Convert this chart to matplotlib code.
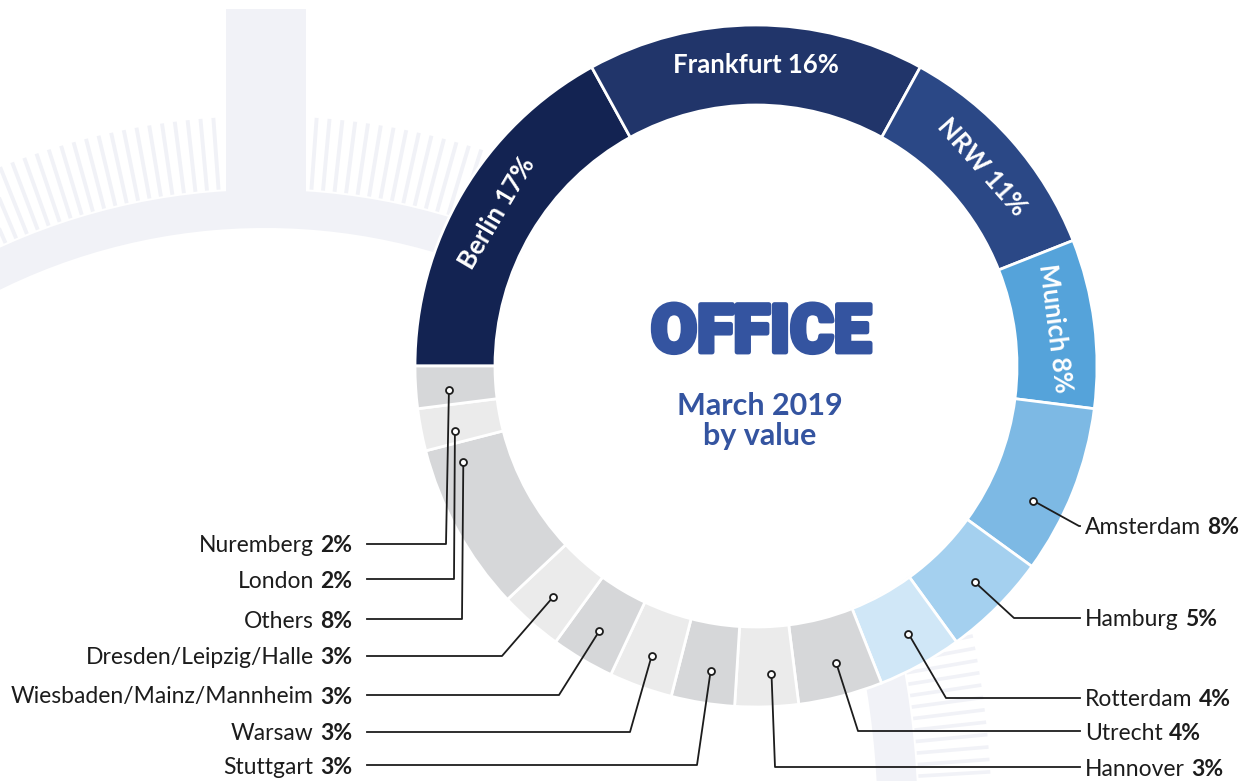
import numpy as np
import matplotlib.pyplot as plt
import matplotlib.patheffects as pe
from matplotlib.patches import Wedge, Circle, Rectangle
from matplotlib import font_manager

W, H = 1245, 781

# ---------------------------- data ----------------------------
cities = ['Berlin', 'Frankfurt', 'NRW', 'Munich', 'Amsterdam', 'Hamburg',
          'Rotterdam', 'Utrecht', 'Hannover', 'Stuttgart', 'Warsaw',
          'Wiesbaden/Mainz/Mannheim', 'Dresden/Leipzig/Halle', 'Others',
          'London', 'Nuremberg']
shares = [17, 16, 11, 8, 8, 5, 4, 4, 3, 3, 3, 3, 3, 8, 2, 2]
colors = ['#132352', '#21356a', '#2b4886', '#55a3da', '#7db9e4', '#a4d0ef',
          '#d0e7f7', '#d6d7d9', '#ebebeb', '#d6d7d9', '#ebebeb', '#d6d7d9',
          '#ebebeb', '#d6d7d9', '#ebebeb', '#d6d7d9']
title = 'OFFICE'
subtitle = 'March 2019\nby value'
n_inside = 4  # first wedges carry their label inside the ring

# leader layout for the outside labels (image pixels, y downwards)
label_y = [526, 618, 698, 731, 767, 765, 732, 695, 656, 619, 579, 544]
elbow_x = [1079, 1014, 946, 858, 775, 697, 630, 559, 502, 462, 454, 446]
dot_frac = [0.65, 0.48, 0.44, 0.45, 0.40, 0.45, 0.50, 0.50, 0.49, 0.87, 0.31, 0.38]
n_right = 5

cx, cy = 756, H - 366
r_out, ring_w = 341, 80
deco = '#f1f2f7'
blue = '#3454a0'
ink = '#1c1c1c'


def heavy_family():
    for fam in ['Roboto', 'Lato', 'Inter', 'Open Sans']:
        for f in font_manager.fontManager.ttflist:
            if f.name == fam and isinstance(f.weight, int) and f.weight >= 800:
                return fam
    return 'DejaVu Sans'


plt.rcParams['font.family'] = ['Lato', 'DejaVu Sans']

fig = plt.figure(figsize=(W / 100, H / 100), dpi=100)
ax = fig.add_axes([0, 0, 1, 1])

# ------------------- background decoration -------------------
# top-left: arc band with radial ticks and a vertical bar
dc = (265, H - 828)
ax.add_patch(Wedge(dc, 638, 40, 150, width=38, color=deco, lw=0, zorder=0))
ax.add_patch(Rectangle((226, dc[1] + 630), 80, H - 9 - dc[1] - 630,
                       color=deco, lw=0, zorder=0))
for a in np.arange(90, 160, 1.04):
    if abs(a - 90) < 4:
        continue
    for s in [1, -1]:
        t = np.radians(90 + s * (a - 90))
        ax.plot([dc[0] + 640 * np.cos(t), dc[0] + 712 * np.cos(t)],
                [dc[1] + 640 * np.sin(t), dc[1] + 712 * np.sin(t)],
                color=deco, lw=2.8, solid_capstyle='butt', zorder=0)

# bottom-right: same motif, rotated
dc2 = (0, H - 830)
ax.add_patch(Wedge(dc2, 918, -6, 16, width=40, color=deco, lw=0, zorder=0))
for a in np.arange(-6, 16, 0.72):
    t = np.radians(a)
    ax.plot([dc2[0] + 920 * np.cos(t), dc2[0] + 992 * np.cos(t)],
            [dc2[1] + 920 * np.sin(t), dc2[1] + 992 * np.sin(t)],
            color=deco, lw=2.6, solid_capstyle='butt', zorder=0)

# --------------------------- donut ---------------------------
wedges, _ = ax.pie(shares, colors=colors, radius=r_out, center=(cx, cy),
                   startangle=180, counterclock=False,
                   wedgeprops=dict(width=ring_w, edgecolor='white', linewidth=2))
for w in wedges:
    w.set_zorder(2)
ax.add_patch(Circle((cx, cy), r_out - ring_w - 1, color='white', lw=0, zorder=1.5))

# labels inside the ring
r_mid = r_out - ring_w / 2
for i in range(n_inside):
    w = wedges[i]
    mid = np.radians((w.theta1 + w.theta2) / 2)
    rot = np.degrees(mid) - 90
    ax.text(cx + r_mid * np.cos(mid), cy + r_mid * np.sin(mid),
            f'{cities[i]} {shares[i]}%', color='white', fontsize=18.5,
            fontweight='bold', rotation=rot, rotation_mode='anchor',
            ha='center', va='center', zorder=5)

# labels outside with leader lines
r_dot = 308
for k, i in enumerate(range(n_inside, len(cities))):
    w = wedges[i]
    # pie goes clockwise: theta2 is the start of the wedge
    ang = np.radians(w.theta2 - dot_frac[k] * (w.theta2 - w.theta1))
    dx, dy = cx + r_dot * np.cos(ang), cy + r_dot * np.sin(ang)
    ly = H - label_y[k]
    right = k < n_right
    end_x = 1080 if right else 367
    ax.plot([dx, elbow_x[k], end_x], [dy, ly, ly], color=ink, lw=1.3, zorder=6)
    ax.plot(dx, dy, 'o', ms=5, mfc='white', mec=ink, mew=1.3, zorder=7)
    base = ly - 8.5
    if right:
        t = ax.text(1085, base, cities[i], fontsize=16.5, color=ink,
                    ha='left', va='baseline', zorder=6)
        ax.annotate(f'{shares[i]}%', xy=(1, 0), xycoords=t, xytext=(4.5, 0),
                    textcoords='offset points', fontsize=16.5,
                    fontweight='bold', color=ink, ha='left', va='bottom')
    else:
        t = ax.text(352, base, f'{shares[i]}%', fontsize=16.5, color=ink,
                    fontweight='bold', ha='right', va='baseline', zorder=6)
        ax.annotate(cities[i], xy=(0, 0), xycoords=t, xytext=(-4.5, 0),
                    textcoords='offset points', fontsize=16.5, color=ink,
                    ha='right', va='bottom')

# centre text
ax.text(761, H - 334, title, fontsize=48, fontweight='black',
        family=heavy_family(), color=blue, ha='center', va='center', zorder=5,
        path_effects=[pe.withStroke(linewidth=3.5, foreground=blue)])
ax.text(760, H - 421, subtitle, fontsize=22, fontweight='bold', color=blue,
        ha='center', va='center', linespacing=1.1, zorder=5)

ax.set_xlim(0, W)
ax.set_ylim(0, H)
ax.set_aspect('equal')
ax.axis('off')

fig.savefig('out.png', dpi=100, facecolor='white')
